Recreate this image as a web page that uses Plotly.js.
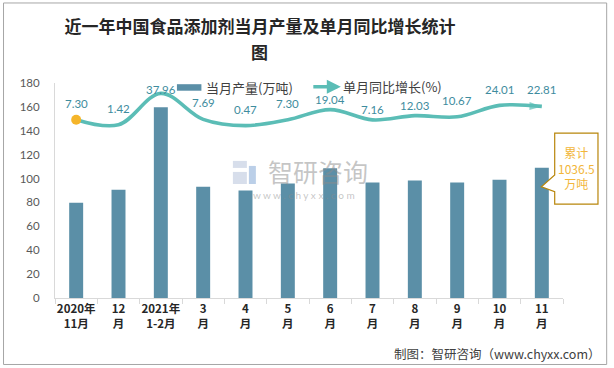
<!DOCTYPE html>
<html>
<head>
<meta charset="utf-8">
<script src="https://cdn.plot.ly/plotly-3.0.1.min.js"></script>
<style>html,body{margin:0;padding:0;background:#fff;}#chart{width:614px;height:368px;}</style>
</head>
<body>
<div id="chart"></div>
<script>
// ---- data ----
const categories = ["2020年<br>11月", "12<br>月", "2021年<br>1-2月", "3<br>月", "4<br>月", "5<br>月", "6<br>月", "7<br>月", "8<br>月", "9<br>月", "10<br>月", "11<br>月"];
const production = [79.8, 90.7, 159.6, 93.2, 89.9, 95.8, 108.7, 96.6, 98.3, 96.6, 99.1, 109.0];
const growth = [7.30, 1.42, 37.96, 7.69, 0.47, 7.30, 19.04, 7.16, 12.03, 10.67, 24.01, 22.81];
const growthLabels = ["7.30", "1.42", "37.96", "7.69", "0.47", "7.30", "19.04", "7.16", "12.03", "10.67", "24.01", "22.81"];
const barName = "当月产量(万吨)";
const lineName = "单月同比增长(%)";
const titleLine1 = "近一年中国食品添加剂当月产量及单月同比增长统计";
const titleLine2 = "图";
const cumulativeText = "累计<br>1036.5<br>万吨";
const sourceText = "制图：智研咨询（www.chyxx.com）";

// ---- layout geometry (pixels) ----
const W = 614, H = 368;
const L = 55, R = 563.3, T = 83.3, B = 297.7;
const px = x => (x - L) / (R - L);
const py = y => (B - y) / (B - T);
const y2Range = [-200, 50];
const nCat = categories.length;
const catPix = i => L + (i + 0.5) * (R - L) / nCat;
const legendSpan = [305, 440];

const barColor = "#5B8FA7";
const lineColor = "#5BBDB6";
const labelColor = "#3E8C9E";
const CJK = "'Noto Sans CJK SC', 'Noto Sans', sans-serif";
const titleFont = {family: CJK, size: 17, color: "#262626", weight: "bold"};

const last = growth.length - 1;
const traces = [
  {
    type: "bar", x: categories, y: production, name: barName,
    marker: {color: barColor}, width: 0.33, showlegend: false, hoverinfo: "y"
  },
  {
    type: "scatter", mode: "lines+markers", x: categories, y: growth, yaxis: "y2", name: lineName,
    line: {color: lineColor, width: 3.6, shape: "spline", smoothing: 1},
    marker: {
      symbol: "arrow",
      size: growth.map((v, i) => i === last ? 13 : 0),
      color: lineColor,
      angleref: "previous",
      line: {width: 0}
    },
    showlegend: false, cliponaxis: false
  },
  {
    type: "scatter", mode: "markers", x: [categories[0]], y: [growth[0]], yaxis: "y2",
    marker: {symbol: "circle", size: 10, color: "#F5B52A", line: {width: 0}},
    showlegend: false, cliponaxis: false, hoverinfo: "skip"
  }
];

// data labels above line points (kept inside plot area, pushed below the legend)
const annotations = growth.map((v, i) => {
  const pPix = B - (v - y2Range[0]) / (y2Range[1] - y2Range[0]) * (B - T);
  let c = pPix - 16.5;
  const cx = catPix(i);
  if (cx > legendSpan[0] && cx < legendSpan[1]) c = Math.max(c, pPix - 10.5);
  if (c < T + 6) c = T + 6;
  return {
    x: categories[i], y: v, xref: "x", yref: "y2", text: growthLabels[i], showarrow: false,
    yshift: pPix - c, font: {family: "Lato, 'Noto Sans', sans-serif", size: 11.5, color: labelColor}
  };
});

// second title line (wrapped title)
annotations.push({
  xref: "paper", yref: "paper", x: px(260), y: py(52), xanchor: "center", yanchor: "middle",
  text: titleLine2, showarrow: false, font: titleFont
});

// legend (manual)
annotations.push({
  xref: "paper", yref: "paper", x: px(204), y: py(88), xanchor: "left", yanchor: "middle",
  text: barName, showarrow: false, font: {family: CJK, size: 13, color: "#404040"}
});
annotations.push({
  xref: "paper", yref: "paper", x: px(341), y: py(87), text: "", showarrow: true,
  ax: -29, ay: 0, arrowhead: 2, arrowsize: 0.8, arrowwidth: 3.5, arrowcolor: lineColor
});
annotations.push({
  xref: "paper", yref: "paper", x: px(341), y: py(86.5), xanchor: "left", yanchor: "middle",
  text: lineName, showarrow: false, font: {family: CJK, size: 13, color: "#404040"}
});

// watermark
annotations.push({
  xref: "paper", yref: "paper", x: px(318), y: py(171), xanchor: "center", yanchor: "middle",
  text: "智研咨询", showarrow: false, font: {family: CJK, size: 25, color: "rgba(140,140,140,0.5)"}
});
annotations.push({
  xref: "paper", yref: "paper", x: px(304), y: py(195), xanchor: "center", yanchor: "middle",
  text: "w w w . c h y x x . c o m", showarrow: false, font: {family: "Lato, sans-serif", size: 10, color: "rgba(140,140,140,0.5)"}
});

// callout text
annotations.push({
  xref: "paper", yref: "paper", x: px(576.7), y: py(168.5), xanchor: "center", yanchor: "middle",
  text: cumulativeText, showarrow: false, align: "center",
  font: {family: CJK, size: 12, color: "#F2B63A"}
});

// source
annotations.push({
  xref: "paper", yref: "paper", x: px(603), y: py(353), xanchor: "right", yanchor: "middle",
  text: sourceText, showarrow: false, font: {family: CJK, size: 12.5, color: "#404040"}
});

const path = pts => pts.map((p, i) => (i ? "L" : "M") + px(p[0]).toFixed(5) + "," + py(p[1]).toFixed(5)).join(" ") + " Z";

const shapes = [
  // outer border
  {type: "rect", xref: "paper", yref: "paper", x0: px(3.5), x1: px(607), y0: py(3.5), y1: py(364), line: {color: "#A6A6A6", width: 1}, layer: "below"},
  // legend bar swatch
  {type: "rect", xref: "paper", yref: "paper", x0: px(177), x1: px(201.5), y0: py(84.5), y1: py(91), fillcolor: barColor, line: {width: 0}},
  // watermark logo
  {type: "rect", xref: "paper", yref: "paper", x0: px(233), x1: px(247), y0: py(161), y1: py(168), fillcolor: "rgba(175,190,215,0.5)", line: {width: 0}},
  {type: "rect", xref: "paper", yref: "paper", x0: px(233), x1: px(247), y0: py(172), y1: py(184), fillcolor: "rgba(175,190,215,0.5)", line: {width: 0}},
  {type: "rect", xref: "paper", yref: "paper", x0: px(249), x1: px(256), y0: py(166), y1: py(184), fillcolor: "rgba(120,160,210,0.5)", line: {width: 0}},
  // callout
  {type: "path", xref: "paper", yref: "paper",
   path: path([[555, 133.3], [598.3, 133.3], [598.3, 204], [555, 204], [555, 191.7], [541.7, 186.7], [555, 175]]),
   fillcolor: "#FFFFFF", line: {color: "#B8860B", width: 1.2}}
];

const layout = {
  width: W, height: H,
  margin: {l: L, r: W - R, t: T, b: H - B, pad: 0, autoexpand: false},
  paper_bgcolor: "#FFFFFF", plot_bgcolor: "rgba(0,0,0,0)",
  title: {
    text: titleLine1, x: 260 / W, xanchor: "center", xref: "container",
    y: 1 - 27 / H, yanchor: "middle", yref: "container", automargin: false,
    font: titleFont
  },
  showlegend: false,
  bargap: 0.67,
  xaxis: {
    type: "category", range: [-0.5, nCat - 0.5], autorange: false,
    showline: true, linecolor: "#D9D9D9", linewidth: 1,
    ticks: "outside", tickson: "boundaries", ticklen: 5, tickcolor: "#D9D9D9",
    showgrid: false, zeroline: false, fixedrange: true, tickangle: 0, automargin: false,
    tickfont: {family: CJK, size: 11.5, color: "#262626", weight: "bold"}
  },
  yaxis: {
    range: [0, 180], dtick: 20, showline: true, linecolor: "#D9D9D9", linewidth: 1,
    showgrid: false, zeroline: false, ticks: "", ticklabelstandoff: 12, automargin: false,
    tickfont: {family: "Lato, 'Noto Sans', sans-serif", size: 11.5, color: "#595959"}
  },
  yaxis2: {
    range: y2Range, overlaying: "y", side: "right", visible: false, showgrid: false, zeroline: false, automargin: false
  },
  annotations: annotations,
  shapes: shapes
};

Plotly.newPlot("chart", traces, layout, {staticPlot: true, displayModeBar: false});
</script>
</body>
</html>
